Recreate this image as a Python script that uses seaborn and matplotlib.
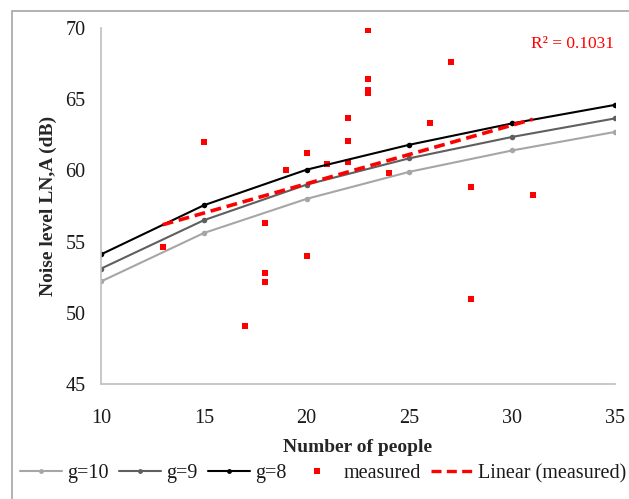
import numpy as np
import pandas as pd
import seaborn as sns
import matplotlib.pyplot as plt
from matplotlib.patches import Rectangle

# model curves
people = [10, 15, 20, 25, 30, 35]
g10 = [52.2, 55.6, 58.0, 59.9, 61.4, 62.7]
g9 = [53.1, 56.5, 59.0, 60.85, 62.35, 63.65]
g8 = [54.1, 57.55, 60.05, 61.8, 63.3, 64.6]

# measured points
meas_x = [13, 15, 17, 18, 18, 18, 19, 20, 20, 21, 22, 22, 22,
          23, 23, 23, 23, 24, 26, 27, 28, 28, 31]
meas_y = [54.65, 62.0, 49.1, 56.3, 52.8, 52.15, 60.05, 61.2, 54.0, 60.45, 63.65, 62.05, 60.6,
          69.85, 66.45, 65.65, 65.45, 59.85, 63.35, 67.6, 58.8, 51.0, 58.3]

curves = pd.DataFrame({'people': people * 3,
                       'level': g10 + g9 + g8,
                       'g': ['g=10'] * 6 + ['g=9'] * 6 + ['g=8'] * 6})
meas = pd.DataFrame({'people': meas_x, 'level': meas_y})

sns.set_style('white')
plt.rcParams['font.family'] = ['Liberation Serif', 'DejaVu Serif']

fig = plt.figure(figsize=(6.29, 4.99), dpi=100)
ax = fig.add_axes([0.1606, 0.2305, 0.8171, 0.7134])

# chart area border
fig.add_artist(Rectangle((12 / 629, -0.1), 1.1, 1 - 11 / 499 + 0.1,
                         transform=fig.transFigure, fill=False,
                         edgecolor='#a6a6a6', linewidth=1.2))

pal = {'g=10': '#a6a6a6', 'g=9': '#5f5f5f', 'g=8': '#000000'}
sns.lineplot(data=curves, x='people', y='level', hue='g', palette=pal,
             marker='o', markersize=4, markeredgewidth=0, linewidth=1.5,
             ax=ax, legend=False)
sns.scatterplot(data=meas, x='people', y='level', color='#ff0000', marker='s',
                s=22, linewidth=0, ax=ax, legend=False)
sns.regplot(data=meas, x='people', y='level', scatter=False, ci=None, ax=ax,
            line_kws={'color': '#ff0000', 'linestyle': (0, (3, 1.6)), 'linewidth': 2.6})

ax.set_xlim(10, 35)
ax.set_ylim(45, 70)
ax.set_xticks([10, 15, 20, 25, 30, 35])
ax.set_yticks([45, 50, 55, 60, 65, 70])
ax.set_xlabel('Number of people', fontsize=14, fontweight='bold', labelpad=8)
ax.set_ylabel('Noise level LN,A (dB)', fontsize=14, fontweight='bold', labelpad=6)
ax.tick_params(axis='both', labelsize=14.5, labelcolor='#1a1a1a', length=5,
               width=1, direction='out', pad=6, color='#bfbfbf')
ax.tick_params(axis='x', pad=13)
ax.spines['top'].set_visible(False)
ax.spines['right'].set_visible(False)
for s in ['left', 'bottom']:
    ax.spines[s].set_color('#bfbfbf')
    ax.spines[s].set_linewidth(1.2)

ax.text(0.998, 0.955, 'R² = 0.1031', transform=ax.transAxes, color='#ff0000',
        fontsize=12.5, ha='right', va='center')

handles = [plt.Line2D([], [], color=pal['g=10'], marker='o', markersize=3.5, markeredgewidth=0, lw=1.5),
           plt.Line2D([], [], color=pal['g=9'], marker='o', markersize=3.5, markeredgewidth=0, lw=1.5),
           plt.Line2D([], [], color=pal['g=8'], marker='o', markersize=3.5, markeredgewidth=0, lw=1.5),
           plt.Line2D([], [], color='#ff0000', marker='s', markersize=4.5, markeredgewidth=0, lw=0),
           plt.Line2D([], [], color='#ff0000', linestyle=(0, (3, 1.6)), lw=2.4)]
labels = ['g=10', 'g=9', 'g=8', 'measured', 'Linear (measured)']
fig.legend(handles, labels, loc='center', bbox_to_anchor=(0.514, 0.051), ncol=5,
           frameon=False, fontsize=14.5, handlelength=2.1, handletextpad=0.25,
           columnspacing=0.5, labelcolor='#1a1a1a')

fig.savefig('out.png', dpi=100)
